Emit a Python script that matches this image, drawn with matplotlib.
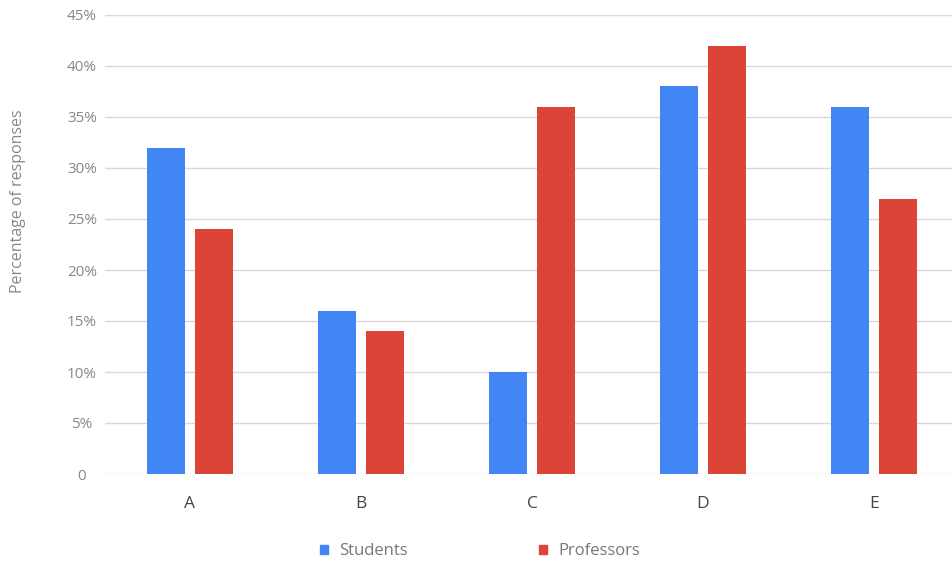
import matplotlib.pyplot as plt
from matplotlib.patches import Rectangle
from matplotlib.ticker import FuncFormatter, MultipleLocator

categories = ["A", "B", "C", "D", "E"]
students = [32, 16, 10, 38, 36]
professors = [24, 14, 36, 42, 27]

blue = "#4285f4"
red = "#db4437"

plt.rcParams["font.family"] = ["Open Sans", "DejaVu Sans"]

fig = plt.figure(figsize=(9.52, 5.63), dpi=100)
W, H = 952, 563
ax = fig.add_axes([104.5 / W, 89 / H, 855 / W, 459 / H])

x = range(len(categories))
bw = 38 / 171
gap = 10 / 171
off = (bw + gap) / 2
ax.bar([i - off for i in x], students, width=bw, color=blue, zorder=3)
ax.bar([i + off for i in x], professors, width=bw, color=red, zorder=3)

ax.set_xlim(-0.5, len(categories) - 0.5)
ax.set_ylim(0, 45)
ax.yaxis.set_major_locator(MultipleLocator(5))
ax.yaxis.set_major_formatter(FuncFormatter(lambda v, p: "0" if v == 0 else f"{v:.0f}%"))
ax.grid(axis="y", color="#d9d9d9", linewidth=1, zorder=0)
for s in ax.spines.values():
    s.set_visible(False)
ax.tick_params(axis="y", length=0, pad=16.2, labelsize=11, labelcolor="#888888")
ax.tick_params(axis="x", length=0, pad=16, labelsize=12.5, labelcolor="#444444")
for lbl in ax.get_yticklabels():
    lbl.set_horizontalalignment("center")
ax.set_xticks(list(x))
ax.set_xticklabels(categories)

fig.text(18 / W, 1 - 201 / H, "Percentage of responses", rotation=90,
         ha="center", va="center", fontsize=11.5, color="#888888")

# legend drawn by hand below the axis
for mx, label, c in [(320, "Students", blue), (539, "Professors", red)]:
    fig.patches.append(Rectangle((mx / W, 1 - 554 / H), 8 / W, 9 / H,
                                 transform=fig.transFigure, color=c))
    fig.text((mx + 19) / W, 1 - 551 / H, label, ha="left", va="center",
             fontsize=12, color="#777777")

fig.savefig("out.png", dpi=100)
